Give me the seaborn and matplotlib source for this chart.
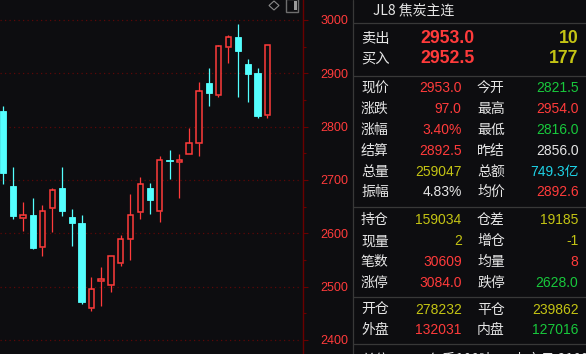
import matplotlib
matplotlib.use("Agg")
import matplotlib.pyplot as plt
from matplotlib.patches import Polygon, Rectangle
import numpy as np
import pandas as pd
import seaborn as sns

# ---------------- data ----------------
opens  = [2829.5, 2688.5, 2629.5, 2634.5, 2574.0, 2647.0, 2685.0, 2630.5, 2619.5, 2459.5,
          2510.0, 2504.0, 2545.0, 2590.0, 2639.5, 2685.0, 2642.5, 2737.5, 2733.0, 2749.5,
          2769.0, 2882.0, 2859.0, 2949.0, 2968.0, 2917.5, 2900.5, 2821.5]
highs  = [2839.0, 2724.5, 2659.0, 2666.0, 2653.0, 2685.0, 2724.5, 2645.5, 2634.5, 2518.0,
          2537.0, 2557.5, 2597.0, 2674.0, 2705.5, 2694.5, 2745.0, 2756.0, 2749.0, 2797.5,
          2884.0, 2910.0, 2953.0, 2972.0, 2992.5, 2927.0, 2910.0, 2954.0]
lows   = [2692.5, 2627.5, 2605.0, 2570.5, 2558.0, 2602.0, 2633.0, 2576.0, 2468.0, 2455.0,
          2464.5, 2490.5, 2539.5, 2550.5, 2627.0, 2637.0, 2622.0, 2702.5, 2667.0, 2749.5,
          2745.5, 2839.5, 2855.0, 2920.0, 2856.0, 2847.0, 2817.0, 2816.0]
closes = [2713.5, 2633.0, 2634.0, 2573.0, 2641.5, 2680.5, 2642.5, 2620.0, 2472.0, 2495.5,
          2514.0, 2557.5, 2589.5, 2634.5, 2692.5, 2662.5, 2737.0, 2736.5, 2737.0, 2769.5,
          2867.0, 2863.5, 2950.5, 2967.5, 2942.5, 2899.5, 2820.5, 2953.0]
price_ticks = [2400, 2500, 2600, 2700, 2800, 2900, 3000]

title = "JL8 焦炭主连"
quote_rows = [  # (label, value, color), (label, value, color)
    (("现价", "2953.0", "red"), ("今开", "2821.5", "green")),
    (("涨跌", "97.0", "red"), ("最高", "2954.0", "red")),
    (("涨幅", "3.40%", "red"), ("最低", "2816.0", "green")),
    (("结算", "2892.5", "red"), ("昨结", "2856.0", "white")),
    (("总量", "259047", "olive"), ("总额", "749.3亿", "cyan")),
    (("振幅", "4.83%", "white"), ("均价", "2892.6", "red")),
    (("持仓", "159034", "olive"), ("仓差", "19185", "olive")),
    (("现量", "2", "olive"), ("增仓", "-1", "olive")),
    (("笔数", "30609", "red"), ("均量", "8", "red")),
    (("涨停", "3084.0", "red"), ("跌停", "2628.0", "green")),
    (("开仓", "278232", "olive"), ("平仓", "239862", "olive")),
    (("外盘", "132031", "red"), ("内盘", "127016", "green")),
]
sell_price, sell_vol = "2953.0", "10"
buy_price, buy_vol = "2952.5", "177"

# ---------------- style ----------------
BG = "#0d0d10"
RED = "#ff3b3b"
CYAN = "#54ffff"
COLORS = {"red": "#ff3b3b", "green": "#18c83c", "white": "#e6e6e6",
          "olive": "#c4c414", "cyan": "#1ed2e6"}
DARKRED = "#6a0000"
GRIDRED = "#5c0808"
SEP = "#383838"

sns.set_theme(style="dark", rc={"axes.facecolor": BG, "figure.facecolor": BG})
plt.rcParams["font.family"] = ["Liberation Sans", "Noto Sans CJK SC", "DejaVu Sans"]

W, H = 586, 354
fig = plt.figure(figsize=(W / 100, H / 100), dpi=100)
fig.patch.set_facecolor(BG)

axis_px = 302.7
ax = fig.add_axes([0, 0, axis_px / W, 1])
ax.set_facecolor(BG)

df = pd.DataFrame({"o": opens, "h": highs, "l": lows, "c": closes})
df["i"] = np.arange(len(df))
up = df[df.c > df.o]
dn = df[df.c <= df.o]

# bearish: filled cyan
ax.vlines(dn.i, dn.l, dn.h, color=CYAN, lw=0.9)
ax.bar(dn.i, dn.o - dn.c, bottom=dn.c, width=0.64, color=CYAN,
       edgecolor=CYAN, linewidth=0.6)
# bullish: hollow red
ax.vlines(up.i, up.c, up.h, color=RED, lw=0.9)
ax.vlines(up.i, up.l, up.o, color=RED, lw=0.9)
ax.bar(up.i, up.c - up.o, bottom=up.o, width=0.55, facecolor=BG,
       edgecolor=RED, linewidth=1.1)

# price scale: 3000 at y=20px, 2400 at y=340px
ppu = 320 / 600
ax.set_ylim(3000 - (H - 20) / ppu, 3000 + 20 / ppu)
spacing = 9.78
xmin = -3.3 / spacing
ax.set_xlim(xmin, xmin + axis_px / spacing)

for p in price_ticks:
    ax.axhline(p, xmin=0, xmax=0.99, color=GRIDRED, lw=0.9,
               ls=(0, (1, 2.6)), zorder=0)

ax.yaxis.tick_right()
ax.set_yticks(price_ticks)
ax.set_yticks([p + 50 for p in price_ticks[:-1]], minor=True)
ax.tick_params(axis="y", which="major", direction="out", length=3.6, width=0.8,
               color=DARKRED, labelcolor=RED, labelsize=9, pad=9.2, right=True,
               left=False)
ax.tick_params(axis="y", which="minor", direction="out", length=2, width=0.8,
               color=DARKRED, right=True, left=False)
ax.tick_params(axis="x", bottom=False, labelbottom=False)
for lab in ax.get_yticklabels():
    lab.set_fontfamily("Liberation Sans")
for s in ["left", "top", "bottom"]:
    ax.spines[s].set_visible(False)
ax.spines["right"].set_color(DARKRED)
ax.spines["right"].set_linewidth(1)
ax.grid(False)

# ---------------- overlay in pixel coordinates ----------------
ov = fig.add_axes([0, 0, 1, 1])
ov.set_xlim(0, W)
ov.set_ylim(H, 0)
ov.axis("off")
ov.patch.set_alpha(0)

# icons
ov.add_patch(Polygon([(274, 1), (279, 5.5), (274, 10), (269, 5.5)], closed=True,
                     fill=False, edgecolor="#8a8a8a", lw=0.8))
ov.add_patch(Rectangle((286.3, -1), 12, 13.3, fill=False, edgecolor="#6e6e6e", lw=1))
ov.add_patch(Rectangle((294.3, 1.2), 3, 9, facecolor="#9a9a9a", edgecolor="none"))

# separators
ov.plot([353.3, 353.3], [0, H], color=SEP, lw=0.9)
for y in [22.7, 76.3, 206.7, 296.7, 344]:
    ov.plot([353.3, W], [y, y], color=SEP, lw=0.9)

LAB = ["Noto Sans CJK SC", "DejaVu Sans"]
NUM = ["Liberation Sans", "Noto Sans CJK SC"]

ov.text(372.7, 14.3, title, color="#e6e6e6", fontsize=10, family=LAB, va="baseline")

# bid / ask
for lab, price, vol, base in [("卖出", sell_price, sell_vol, 43.3),
                              ("买入", buy_price, buy_vol, 63.3)]:
    ov.text(361, base, lab, color="#e6e6e6", fontsize=10.3, family=LAB, va="baseline")
    ov.text(420, base, price, color=RED, fontsize=12.7, fontweight="bold",
            family=NUM, va="baseline")
    ov.text(578.5, base, vol, color=COLORS["olive"], fontsize=12.7, fontweight="bold",
            family=NUM, va="baseline", ha="right")

baselines = [92.3, 112.7, 134.3, 155, 175.7, 196.3, 223.7, 245.3, 266, 286.7, 313.7, 334.3]
for (left, right), base in zip(quote_rows, baselines):
    for (lab, val, col), lx, vx in [(left, 361, 461.7), (right, 477, 578.5)]:
        ov.text(lx, base, lab, color="#e6e6e6", fontsize=10, family=LAB, va="baseline")
        ov.text(vx, base, val, color=COLORS[col], fontsize=10, family=NUM,
                va="baseline", ha="right")

# partially visible last row (cut by the window edge, as in the screenshot)
ov.text(361, 364, "单位", color="#e6e6e6", fontsize=10, family=LAB, va="baseline")
ov.text(428, 364, "每手100吨", color="#e6e6e6", fontsize=10, family=LAB, va="baseline")
ov.text(513, 364, "上市日 2109", color="#e6e6e6", fontsize=10, family=LAB, va="baseline")

fig.savefig("out.png", dpi=100, facecolor=BG)
